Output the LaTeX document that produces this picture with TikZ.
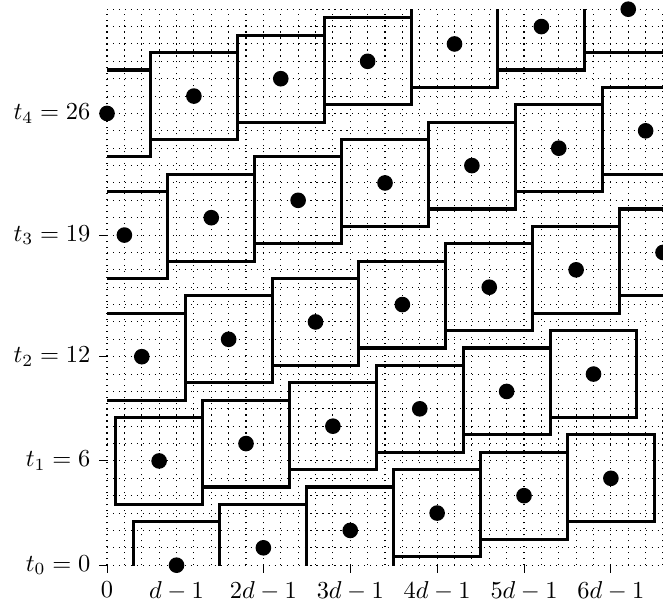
\documentclass[tikz,border=0pt]{standalone}
\begin{document}
\begin{tikzpicture}[x=0.25cm,y=0.25cm,
  gridline/.style={dotted, line width=0.45pt},
  tile/.style={line width=1.25pt},
  pt/.style={circle, fill=black, draw=none, inner sep=0pt, minimum size=6.4pt},
  tickmark/.style={line width=0.4pt}]
\useasboundingbox (-6.16,-2.13) rectangle (32,32.53);
\draw[gridline, step=0.25cm] (0,0) grid (32,32);
\begin{scope}
  \clip (0,0) rectangle (32,32);
  \foreach \r/\t/\n in {0/0/5,1/6/5,2/12/6,3/19/6,4/26/6} {
    \foreach \k in {0,...,\n} {
      \draw[tile] ({4-\r+5*\k-2.5},{\t+\k-2.5}) rectangle ++(5,5);
    }
  }
\end{scope}
\foreach \r/\t/\n in {0/0/5,1/6/5,2/12/6,3/19/6,4/26/6} {
  \foreach \k in {0,...,\n} {
    \node[pt] (dot\r-\k) at ({4-\r+5*\k},{\t+\k}) {};
  }
}
\foreach \t/\lab in {0/0,6/1,12/2,19/3,26/4} {
  \draw[tickmark] (0,\t) -- ++(-3.3pt,0) node[left] (ty\lab) {$t_{\lab}=\t$};
}
\foreach \x/\lab in {0/0,4/d-1,9/2d-1,14/3d-1,19/4d-1,24/5d-1,29/6d-1} {
  \draw[tickmark] (\x,0) -- ++(0,-3.3pt) node[below] (tx\x) {$\lab$};
}
\end{tikzpicture}
\end{document}
